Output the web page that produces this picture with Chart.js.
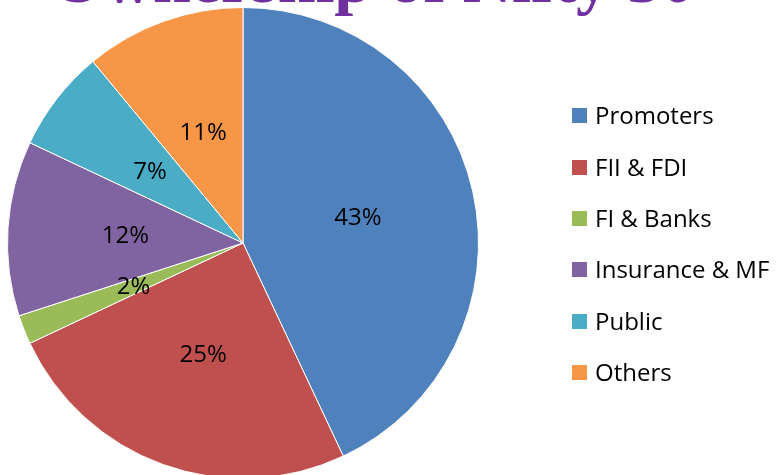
<!DOCTYPE html>
<html>
<head>
<meta charset="utf-8">
<script src="https://cdn.jsdelivr.net/npm/chart.js@4/dist/chart.umd.min.js"></script>
<style>
  html, body { margin: 0; padding: 0; background: #fff; overflow: hidden; width: 784px; height: 475px; }
  #wrap { position: relative; width: 784px; height: 490px; }
  #title {
    position: absolute; left: 51px; top: -55px; margin: 0;
    font: bold 68px "Liberation Serif", serif; line-height: 68px;
    color: #7030A0; white-space: nowrap; z-index: 2;
  }
  #legend { position: absolute; left: 572px; top: 89px; margin: 0; padding: 0; list-style: none; }
  #legend li {
    height: 51.4px; display: flex; align-items: center;
    font: 24px "Open Sans", sans-serif; color: #000; white-space: nowrap;
  }
  #legend span { display: inline-block; width: 15px; height: 15px; margin-right: 8px; position: relative; top: 1px; }
</style>
</head>
<body>
<div id="wrap">
  <div id="title">Ownership of Nifty 50</div>
  <canvas id="ownershipPie" width="784" height="490"></canvas>
  <ul id="legend"></ul>
</div>
<script>
  const categories = ["Promoters", "FII & FDI", "FI & Banks", "Insurance & MF", "Public", "Others"];
  const shares = [43, 25, 2, 12, 7, 11];
  const colors = ["#4F81BD", "#C0504D", "#9BBB59", "#8064A2", "#4BACC6", "#F79646"];

  // percent labels in the middle of each slice
  const sliceLabels = {
    id: 'sliceLabels',
    afterDatasetsDraw(chart) {
      const ctx = chart.ctx;
      const meta = chart.getDatasetMeta(0);
      ctx.save();
      ctx.font = '24px "Open Sans", sans-serif';
      ctx.fillStyle = '#000';
      ctx.textAlign = 'center';
      ctx.textBaseline = 'middle';
      meta.data.forEach((arc, i) => {
        const p = arc.tooltipPosition();
        ctx.fillText(shares[i] + '%', p.x, p.y + 1);
      });
      ctx.restore();
    }
  };

  new Chart(document.getElementById("ownershipPie"), {
    type: 'pie',
    data: {
      labels: categories,
      datasets: [{
        data: shares,
        backgroundColor: colors,
        borderColor: '#fff',
        borderWidth: 1
      }]
    },
    options: {
      responsive: false,
      animation: false,
      events: [],
      layout: { padding: { left: 7, top: 7, right: 305, bottom: 11 } },
      plugins: {
        legend: { display: false },
        title: { display: false },
        tooltip: { enabled: false }
      }
    },
    plugins: [sliceLabels]
  });

  const legend = document.getElementById("legend");
  categories.forEach((name, i) => {
    const li = document.createElement("li");
    const box = document.createElement("span");
    box.style.background = colors[i];
    li.appendChild(box);
    li.appendChild(document.createTextNode(name));
    legend.appendChild(li);
  });
</script>
</body>
</html>
